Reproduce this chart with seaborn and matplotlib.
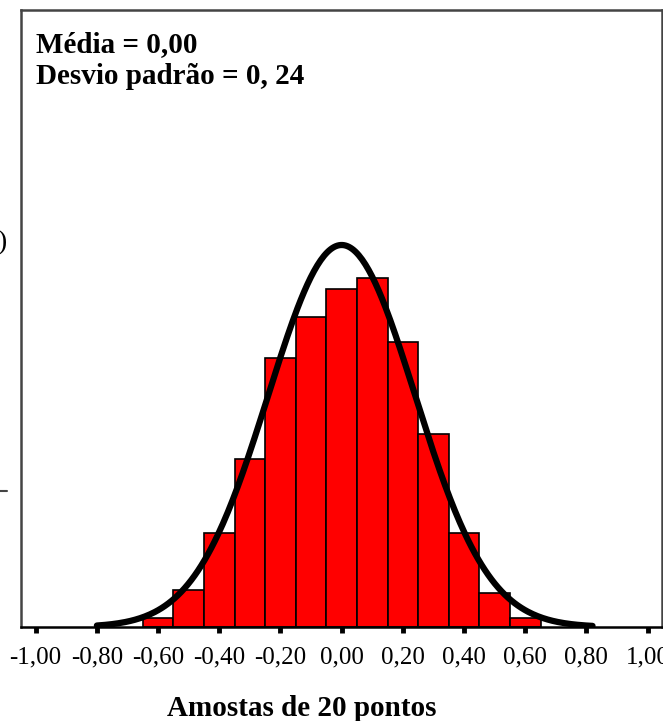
import numpy as np
import pandas as pd
import seaborn as sns
import matplotlib
matplotlib.use("Agg")
import matplotlib.pyplot as plt
from matplotlib.ticker import FixedLocator, FuncFormatter

# ---- data ----
bin_centers = [-0.6, -0.5, -0.4, -0.3, -0.2, -0.1, 0.0, 0.1, 0.2, 0.3, 0.4, 0.5, 0.6]
counts = [4, 16, 41, 73, 117, 135, 147, 152, 124, 84, 41, 15, 4]
mean_value = 0.00
sd_value = 0.24
n_samples = 1000
bin_width = 0.1
x_ticks = [-1.0, -0.8, -0.6, -0.4, -0.2, 0.0, 0.2, 0.4, 0.6, 0.8, 1.0]
curve_range = (-0.80, 0.82)
stats_text = ["Média = 0,00", "Desvio padrão = 0, 24"]
x_label = "Amostas de 20 pontos"

sns.set_theme(style="white")
plt.rcParams['font.family'] = ['Liberation Serif', 'DejaVu Serif']
plt.rcParams['text.color'] = 'black'
plt.rcParams['axes.labelcolor'] = 'black'
plt.rcParams['xtick.color'] = 'black'

fig = plt.figure(figsize=(6.63, 7.21), dpi=100)
ax = fig.add_axes([21 / 663, 94 / 721, 641 / 663, 617 / 721])

df = pd.DataFrame({"x": bin_centers, "n": counts})
lo = min(bin_centers) - bin_width / 2
hi = max(bin_centers) + bin_width / 2
sns.histplot(data=df, x="x", weights="n", binwidth=bin_width, binrange=(lo, hi), ax=ax,
             color="#ff0000", edgecolor="black", linewidth=1.2, alpha=1.0)

# fitted normal curve
xs = np.linspace(curve_range[0], curve_range[1], 300)
ys = n_samples * bin_width * np.exp(-0.5 * ((xs - mean_value) / sd_value) ** 2) / (sd_value * np.sqrt(2 * np.pi))
sns.lineplot(x=xs, y=ys, ax=ax, color="black", linewidth=4.5)

peak = n_samples * bin_width / (sd_value * np.sqrt(2 * np.pi))
ax.set_xlim(-1.048, 1.047)
ax.set_ylim(0, peak * 617 / 382)

ax.xaxis.set_major_locator(FixedLocator(x_ticks))
ax.xaxis.set_major_formatter(FuncFormatter(lambda v, p: f"{v:.2f}".replace(".", ",").replace("-0,00", "0,00")))
ax.set_yticks([])
ax.set_ylabel("")
ax.tick_params(axis="x", bottom=True, direction="out", length=4, width=3.5, color="black",
               labelcolor="black", labelsize=18, pad=10)

ax.set_xlabel(x_label, fontsize=21, fontweight="bold", color="black")
ax.xaxis.set_label_coords((302 - 21) / 641, -(709 - 627) / 617)
ax.xaxis.label.set_verticalalignment("center")

for side in ["left", "top", "right"]:
    ax.spines[side].set_color("#444444")
    ax.spines[side].set_linewidth(1.8)
ax.spines["bottom"].set_color("black")
ax.spines["bottom"].set_linewidth(1.8)

ax.text((36 - 21) / 641, (627 - 45) / 617, stats_text[0], transform=ax.transAxes,
        fontsize=21, fontweight="bold", va="center", ha="left", color="black")
ax.text((36 - 21) / 641, (627 - 77) / 617, stats_text[1], transform=ax.transAxes,
        fontsize=21, fontweight="bold", va="center", ha="left", color="black")

# cropped fragments at the left edge of the original image
fig.text(-0.004, 1 - 243 / 721, ")", fontsize=20, va="center", ha="left", color="black")
fig.add_artist(plt.Line2D([0, 7 / 663], [1 - 491 / 721, 1 - 491 / 721], color="#444444", linewidth=1.5))

fig.savefig("out.png", dpi=100)
